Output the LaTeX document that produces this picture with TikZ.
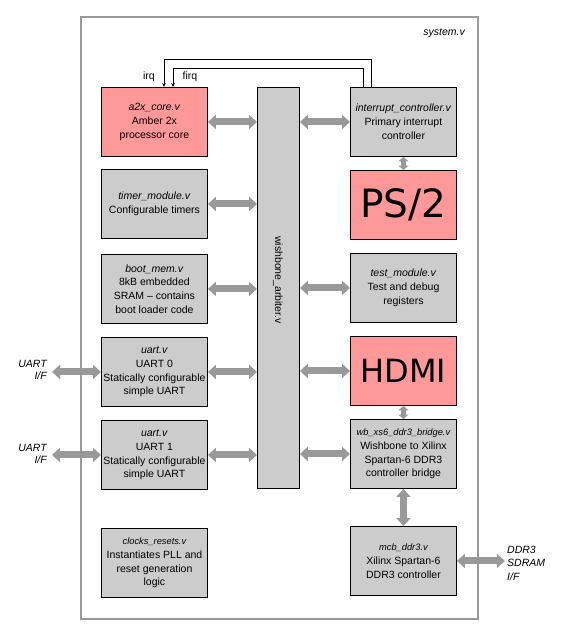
\documentclass[tikz,border=0pt]{standalone}
\usepackage{fontspec}
\setmainfont{Liberation Sans}
\newfontfamily\dejavu{DejaVu Sans}
\usetikzlibrary{arrows.meta,calc}
\definecolor{pinkfill}{HTML}{FF9999}
\definecolor{grayfill}{HTML}{CCCCCC}
\definecolor{arrowgray}{HTML}{999999}
\begin{document}
\begin{tikzpicture}[x=1pt,y=-1pt,
  block/.style={draw=black, line width=0.9pt, fill=grayfill, minimum width=106pt, minimum height=69pt,
    inner sep=0pt, align=center, anchor=north west, font=\fontsize{10.5}{13.8}\selectfont},
  pinkblock/.style={block, fill=pinkfill},
  fname/.style={font=\fontsize{10.5}{13.8}\selectfont\itshape},
  bigarrow/.style={draw=arrowgray, line width=7pt, {Triangle[length=8pt,width=14pt]}-{Triangle[length=8pt,width=14pt]}},
  smallarrow/.style={draw=arrowgray, line width=4.5pt, {Triangle[length=4.5pt,width=10pt]}-{Triangle[length=4.5pt,width=10pt]}},
  irqline/.style={draw=black, line width=0.8pt, -{Stealth[length=4pt,width=3.5pt]}},
  iflabel/.style={font=\fontsize{10.5}{12.5}\selectfont\itshape, inner sep=0pt}
]
\useasboundingbox (0,0) rectangle (562,635);

% system box
\node[draw=arrowgray, line width=1.8pt, minimum width=397pt, minimum height=602pt, inner sep=0pt, anchor=north west] (sys) at (80,16) {};
\node[font=\fontsize{10.5}{12}\selectfont\itshape, anchor=east, inner sep=0pt] (systxt) at (465,33) {system.v};

% left column
\node[pinkblock] (a2x) at (101,87) {\textit{a2x\_core.v}\\Amber 2x\\processor core};
\node[block] (timer) at (101,169) {\textit{timer\_module.v}\\Configurable timers};
\node[block] (boot) at (101,254) {\textit{boot\_mem.v}\\8kB embedded\\SRAM -- contains\\boot loader code};
\node[block] (uart0) at (101,337) {\textit{uart.v}\\UART 0\\Statically configurable\\simple UART};
\node[block] (uart1) at (101,420) {\textit{uart.v}\\UART 1\\Statically configurable\\simple UART};
\node[block] (clk) at (101,528) {{\fontsize{9.3}{12}\selectfont\itshape clocks\_resets.v}\\Instantiates PLL and\\reset generation\\logic};

% arbiter
\node[block, minimum width=42pt, minimum height=401pt] (arb) at (257,87) {};
\node[rotate=-90, font=\fontsize{10.5}{12}\selectfont, inner sep=0pt] (arbtxt) at (278,280) {wishbone\_arbiter.v};

% right column
\node[block] (ic) at (350,87) {\textit{interrupt\_controller.v}\\Primary interrupt\\controller};
\node[pinkblock, font=\dejavu\fontsize{39}{40}\selectfont] (ps2) at (350,170) {PS/2};
\node[block] (test) at (350,253) {\textit{test\_module.v}\\Test and debug\\registers};
\node[pinkblock, font=\dejavu\fontsize{32}{34}\selectfont] (hdmi) at (350,336) {HDMI};
\node[block] (bridge) at (350,419) {{\fontsize{9.3}{12}\selectfont\itshape wb\_xs6\_ddr3\_bridge.v}\\Wishbone to Xilinx\\Spartan-6 DDR3\\controller bridge};
\node[block] (mcb) at (350,526) {{\fontsize{9.3}{12}\selectfont\itshape mcb\_ddr3.v}\\Xilinx Spartan-6\\DDR3 controller};

% bus arrows left
\foreach \n in {a2x,timer,boot,uart0,uart1}
  \draw[bigarrow] (\n.east) -- (\n.east -| arb.west);
% bus arrows right
\foreach \n in {ic,test,hdmi,bridge}
  \draw[bigarrow] (\n.west -| arb.east) -- (\n.west);

% vertical arrows
\draw[smallarrow] (ic.south) -- (ps2.north);
\draw[smallarrow] (hdmi.south) -- (bridge.north);
\draw[bigarrow] (bridge.south) -- (mcb.north);

% external interfaces
\coordinate (u0if) at ($(uart0.west)+(-49,0)$);
\coordinate (u1if) at ($(uart1.west)+(-49,0)$);
\coordinate (ddrif) at ($(mcb.east)+(48,0)$);
\draw[bigarrow] (u0if) -- (uart0.west);
\draw[bigarrow] (u1if) -- (uart1.west);
\draw[bigarrow] (mcb.east) -- (ddrif);
\node[iflabel, align=right, anchor=east] (l0) at (47,370) {UART\\I/F};
\node[iflabel, align=right, anchor=east] (l1) at (47,454) {UART\\I/F};
\node[iflabel, align=left, anchor=west, font=\fontsize{10.5}{13.5}\selectfont\itshape] (ld) at (507,563) {DDR3\\SDRAM\\I/F};

% irq / firq
\coordinate (irqtop) at ($(ic.north west)+(21,0)$);
\coordinate (firqtop) at ($(ic.north west)+(13,0)$);
\coordinate (irqdst) at ($(a2x.north west)+(63,0)$);
\coordinate (firqdst) at ($(a2x.north west)+(72,0)$);
\draw[irqline] (irqtop) -- ++(0,-28) -| (irqdst);
\draw[irqline] (firqtop) -- ++(0,-19) -| (firqdst);
\node[font=\fontsize{10.5}{12}\selectfont, inner sep=0pt] (irqtxt) at (149,77) {irq};
\node[font=\fontsize{10.5}{12}\selectfont, inner sep=0pt] (firqtxt) at (190,77) {firq};
\end{tikzpicture}
\end{document}
